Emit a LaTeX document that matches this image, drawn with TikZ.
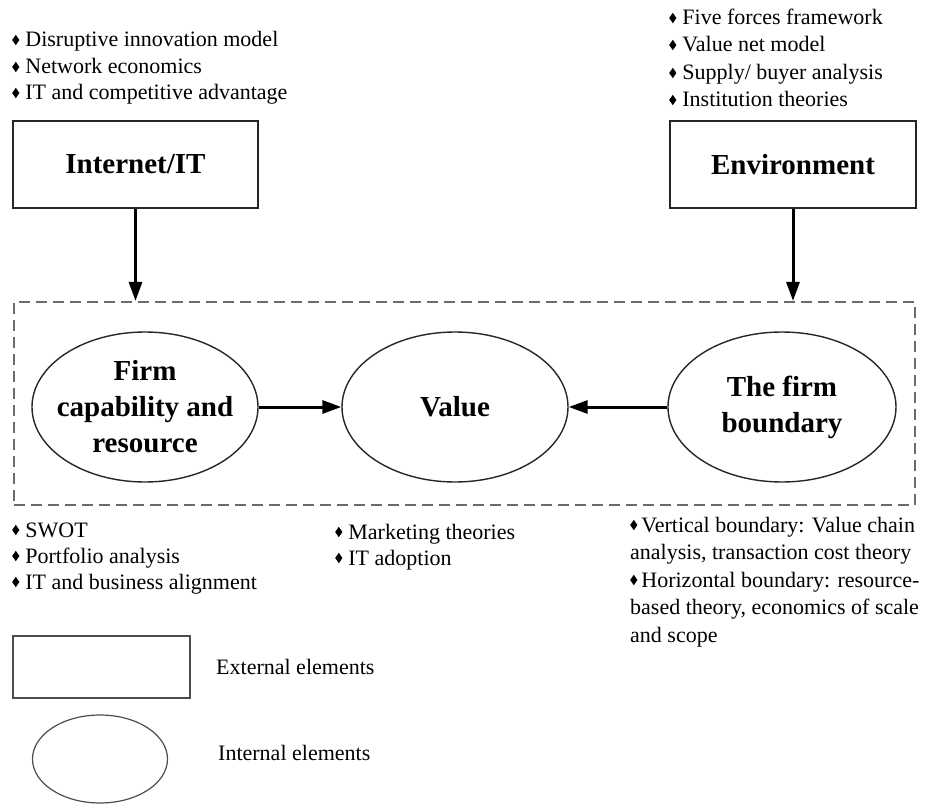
\documentclass[tikz,border=0pt]{standalone}
\usepackage{fontspec}
\setmainfont{Liberation Serif}
\usetikzlibrary{arrows.meta,shapes.geometric}
% small black lozenge used as list bullet
\newcommand\bul[1][6pt]{\tikz[x=1pt,y=1pt,baseline=0pt]\fill (0,7)--(3.6,12.2)--(7.2,7)--(3.6,1.8)--cycle;\hspace{#1}}
\begin{document}
\begin{tikzpicture}[x=1pt,y=-1pt,
  ext/.style={draw=black!85, line width=1.4pt, minimum width=245pt, minimum height=87pt,
    inner sep=0pt, font=\fontsize{29}{36}\selectfont\bfseries},
  intl/.style={ellipse, draw=black!85, line width=1.4pt, minimum width=226pt,
    minimum height=150pt, inner sep=0pt},
  lbl/.style={align=center, inner sep=0pt, font=\fontsize{29}{36}\selectfont\bfseries},
  item/.style={anchor=base west, inner sep=0pt, font=\fontsize{22}{27}\selectfont},
  flow/.style={line width=3pt, -{Triangle[length=19pt,width=13pt]}},
  zone/.style={draw=black!58, line width=2.2pt, dash pattern=on 11pt off 6pt,
    minimum width=901pt, minimum height=203pt, inner sep=0pt},
  key/.style={draw=black!70, line width=1.2pt, inner sep=0pt}]
\path[use as bounding box] (0,0) rectangle (929,805);

% external elements
\node[ext] (inet) at (135.5,164.5) {Internet/IT};
\node[ext, minimum width=246pt] (env) at (793,164.5) {Environment};

% the firm (dashed zone) and its internal elements
\node[zone] (zone) at (464.5,403.5) {};
\node[intl] (firm) at (145,407) {};
\node[intl] (value) at (455,407) {};
\node[intl, minimum width=228pt] (bound) at (782,407) {};
\node[lbl] (firmtxt) at (firm.center) {Firm\\capability and\\resource};
\node[lbl] (valuetxt) at (value.center) {Value};
\node[lbl] (boundtxt) at (bound.center) {The firm\\boundary};

% connectors
\draw[flow] (inet.south) -- (inet.south |- zone.north);
\draw[flow] (env.south) -- (env.south |- zone.north);
\draw[flow] (firm.east) -- (value.west);
\draw[flow] (bound.west) -- (value.east);

% theories attached to each element
\node[item] (t1) at (12,47) {\bul Disruptive innovation model};
\node[item] (t2) at (12,74) {\bul Network economics};
\node[item] (t3) at (12,100) {\bul IT and competitive advantage};

\node[item] (e1) at (669,25) {\bul Five forces framework};
\node[item] (e2) at (669,52) {\bul Value net model};
\node[item] (e3) at (669,80) {\bul Supply/ buyer analysis};
\node[item] (e4) at (669,107) {\bul Institution theories};

\node[item] (f1) at (12,537) {\bul SWOT};
\node[item] (f2) at (12,563) {\bul Portfolio analysis};
\node[item] (f3) at (12,589) {\bul IT and business alignment};

\node[item] (v1) at (335,539) {\bul Marketing theories};
\node[item] (v2) at (335,565) {\bul IT adoption};

\node[item] (b1) at (630,532) {\bul[4pt]Vertical boundary: Value chain};
\node[item] (b2) at (630,559.5) {analysis, transaction cost theory};
\node[item] (b3) at (630,587) {\bul[4pt]Horizontal boundary: resource-};
\node[item] (b4) at (630,614.5) {based theory, economics of scale};
\node[item] (b5) at (630,642) {and scope};

% legend
\node[key, minimum width=177pt, minimum height=62pt] (keyext) at (101.5,667) {};
\node[key, ellipse, minimum width=135pt, minimum height=88pt] (keyint) at (100,759) {};
\node[item] (keyexttxt) at (216,674) {External elements};
\node[item] (keyinttxt) at (218,760) {Internal elements};
\end{tikzpicture}
\end{document}
